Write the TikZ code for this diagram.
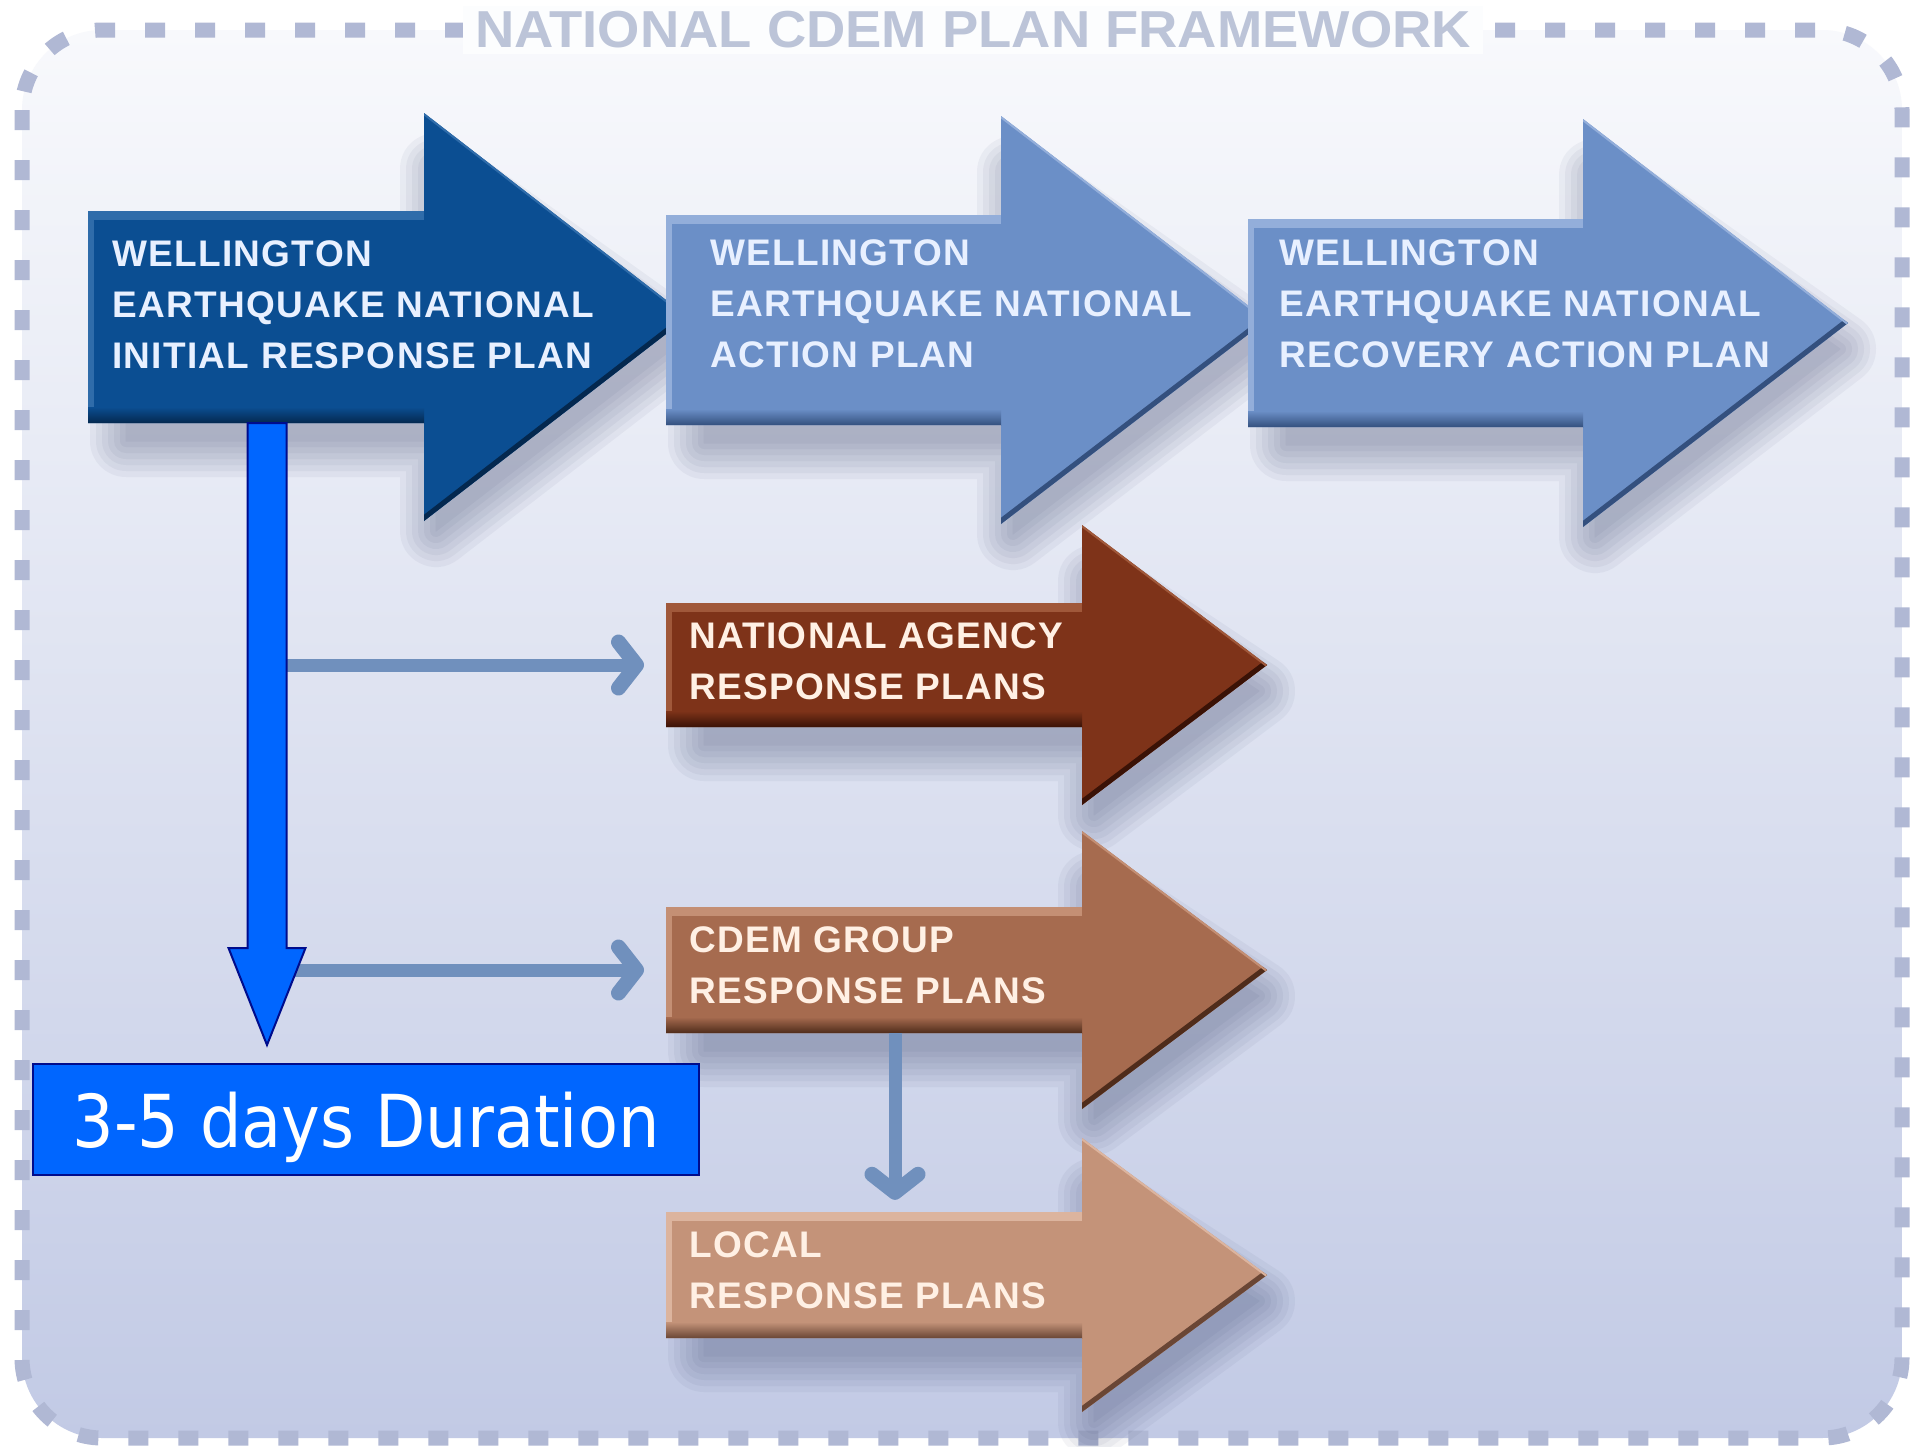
\documentclass[tikz,border=0pt]{standalone}
\usepackage{fontspec}
\usepackage{graphicx}
\usetikzlibrary{arrows.meta,calc}
\setmainfont{Liberation Sans}
\newfontfamily\planfont{Liberation Sans}[LetterSpace=3.5]
\newfontfamily\titlefont{Liberation Sans}
\newfontfamily\durfont{DejaVu Sans}
\definecolor{bgtop}{HTML}{F8F9FC}
\definecolor{bgbot}{HTML}{C2CAE5}
\definecolor{bordercol}{HTML}{B0B8D4}
\definecolor{titlecol}{HTML}{BCC4D8}
\definecolor{conncol}{HTML}{7090BD}
\definecolor{shadowcol}{HTML}{2A345E}
\definecolor{a1main}{HTML}{0B4E92}
\definecolor{a1dark}{HTML}{04284F}
\definecolor{a1light}{HTML}{2F6CAA}
\definecolor{tbmain}{HTML}{6B8FC7}
\definecolor{tbdark}{HTML}{34507E}
\definecolor{tblight}{HTML}{93AEDA}
\definecolor{a4main}{HTML}{7E3319}
\definecolor{a4dark}{HTML}{3A1206}
\definecolor{a4light}{HTML}{A0583A}
\definecolor{a5main}{HTML}{A66B4F}
\definecolor{a5dark}{HTML}{4F2C1B}
\definecolor{a5light}{HTML}{C48F74}
\definecolor{a6main}{HTML}{C49379}
\definecolor{a6dark}{HTML}{6A4635}
\definecolor{a6light}{HTML}{DCB49E}
\definecolor{bluetext}{HTML}{E8F0FF}
\definecolor{browntext}{HTML}{FFF0E4}
\definecolor{durfill}{HTML}{0066FF}
\definecolor{durline}{HTML}{000C8C}
% name, x0, ymid, halfbody, halfhead, xhead, xtip, colour prefix
\newcommand\planarrow[8]{%
  \foreach \sw in {72,60,48,36,24,12,1}{%
    \begin{scope}[transparency group, opacity=0.05]
    \filldraw[shadowcol, line width=\sw pt, line join=round, shift={(16,26)}]
      (#2+22,#3-#4+22) -- (#6-4,#3-#4+22) -- (#6-4,#3-#5+30) -- (#7-24,#3) -- (#6-4,#3+#5-16) -- (#6-4,#3+#4-8) -- (#2+22,#3+#4-8) -- cycle;
    \end{scope}
  }
  \fill[#8main]
    (#2,#3-#4) -- (#6,#3-#4) -- (#6,#3-#5) -- (#7,#3) -- (#6,#3+#5) -- (#6,#3+#4) -- (#2,#3+#4) -- cycle;
  \begin{scope}
    \clip (#2,#3-#4) -- (#6,#3-#4) -- (#6,#3-#5) -- (#7,#3) -- (#6,#3+#5) -- (#6,#3+#4) -- (#2,#3+#4) -- cycle;
    \shade[top color=#8main, bottom color=#8dark] (#2,#3+#4-16) rectangle (#6,#3+#4);
    \fill[#8light] (#2,#3-#4) rectangle (#6,#3-#4+9);
    \fill[#8light] (#2,#3-#4) rectangle (#2+6,#3+#4-16);
    \draw[#8dark, line width=10pt] (#7,#3) -- (#6,#3+#5);
    \draw[#8light, line width=4pt] (#6,#3-#5) -- (#7,#3);
  \end{scope}
  \node[inner sep=0pt, minimum width=#6pt-#2pt, minimum height=2*#4pt, anchor=west] (#1) at (#2,#3) {};
}
\begin{document}
\begin{tikzpicture}[x=1pt,y=-1pt,
  planlabel/.style={anchor=north west, inner sep=0pt, align=left,
    font=\planfont\bfseries\fontsize{37}{51}\selectfont},
  conn/.style={draw=conncol, line width=13pt,
    -{Straight Barb[length=18pt,width=46pt,line width=15pt,round]}},
  durbox/.style={fill=durfill, draw=durline, line width=2pt, text=white,
    inner sep=0pt, text depth=0pt, font=\durfont\fontsize{73}{80}\selectfont},
  bluearrow/.style={fill=durfill, draw=durline, line width=2pt, line join=miter}]
\useasboundingbox (0,0) rectangle (1910,1446);
\fill[white] (0,0) rectangle (1910,1446);
\shade[top color=bgtop, bottom color=bgbot, rounded corners=80pt] (22,30) rectangle (1902,1438);
\draw[bordercol, line width=15pt, dash pattern=on 20pt off 30pt, rounded corners=80pt] (22,30) rectangle (1902,1438);
\node[fill=white!60!bgtop, inner xsep=12pt, inner ysep=6pt, text=titlecol,
  font=\titlefont\bfseries\fontsize{52}{60}\selectfont] (title) at (973,30)
  {\resizebox{996pt}{\height}{NATIONAL CDEM PLAN FRAMEWORK}};

\planarrow{a1}{88}{317}{106}{204}{424}{688}{a1}
\planarrow{a2}{666}{320}{105}{204}{1001}{1267}{tb}
\planarrow{a3}{1248}{323}{104}{204}{1583}{1848}{tb}
\planarrow{a4}{666}{665}{62}{140}{1082}{1267}{a4}
\planarrow{a5}{666}{970}{63}{139}{1082}{1267}{a5}
\planarrow{a6}{666}{1275}{63}{137}{1082}{1267}{a6}

\node[planlabel, text=bluetext] (t1) at (112,240) {WELLINGTON\\EARTHQUAKE NATIONAL\\INITIAL RESPONSE PLAN};
\node[planlabel, text=bluetext] (t2) at (710,239) {WELLINGTON\\EARTHQUAKE NATIONAL\\ACTION PLAN};
\node[planlabel, text=bluetext] (t3) at (1279,239) {WELLINGTON\\EARTHQUAKE NATIONAL\\RECOVERY ACTION PLAN};
\node[planlabel, text=browntext] (t4) at (689,622) {NATIONAL AGENCY\\RESPONSE PLANS};
\node[planlabel, text=browntext] (t5) at (689,926) {CDEM GROUP\\RESPONSE PLANS};
\node[planlabel, text=browntext] (t6) at (689,1231) {LOCAL\\RESPONSE PLANS};

\node[durbox, minimum width=666pt, minimum height=111pt, anchor=north west] (dur) at (32,1063)
  {\resizebox{587pt}{\height}{3-5 days Duration}};

\coordinate (bstart) at ([xshift=179pt]a1.south west);
\coordinate (btip) at ($(bstart |- dur.north)+(0,-18)$);
\coordinate (vstart) at ([xshift=229pt]a5.south west);

\draw[conn, shorten >=22pt] (bstart |- a4.west) -- (a4.west);
\draw[conn, shorten >=22pt] (bstart |- a5.west) -- (a5.west);
\draw[conn, shorten >=12pt] (vstart) -- (vstart |- a6.north);

\filldraw[bluearrow] let \p1=(bstart), \p2=(btip) in
  (\x1-19.5pt,\y1) -- (\x1+19.5pt,\y1) -- (\x1+19.5pt,\y2+97pt) -- (\x1+38.5pt,\y2+97pt)
  -- (\x2,\y2) -- (\x1-38.5pt,\y2+97pt) -- (\x1-19.5pt,\y2+97pt) -- cycle;
\end{tikzpicture}
\end{document}
